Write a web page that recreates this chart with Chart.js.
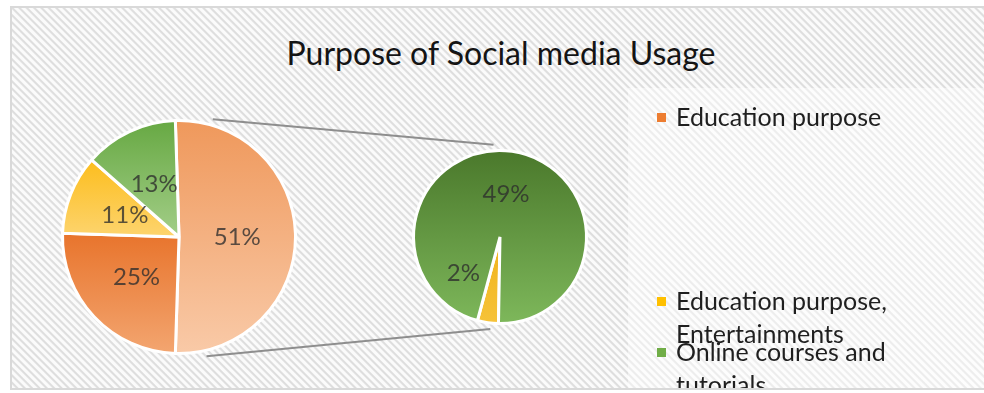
<!DOCTYPE html>
<html lang="en">
<head>
<meta charset="UTF-8">
<title>Purpose of Social media Usage</title>
<script src="https://cdn.jsdelivr.net/npm/chart.js"></script>
<style>
  body { margin: 0; width: 984px; height: 393px; overflow: hidden; background: #fff; font-family: Lato, sans-serif; }
  #frame {
    position: absolute; left: 10px; top: 6px; width: 980px; height: 384px; box-sizing: border-box;
    border: 2px solid #d9d9d9; border-right: none;
    background: repeating-linear-gradient(45deg, #fbfbfb 0px, #fbfbfb 2px, #dedede 3.2px, #dedede 4.2px, #fbfbfb 5.2px);
  }
  #legendBox { position: absolute; left: 628px; top: 88px; width: 356px; height: 300px; background: rgba(255,255,255,0.45); overflow: hidden; }
  #title { position: absolute; left: 0; width: 1002px; top: 33px; text-align: center; font-size: 32px; color: #141414; white-space: nowrap; }
  canvas { position: absolute; left: 0; top: 0; }
  .item { position: absolute; left: 48px; width: 215px; font-size: 25px; line-height: 33px; color: #1f1f1f; }
  .item i { position: absolute; left: -19px; top: 13px; width: 9px; height: 9px; }
</style>
</head>
<body>
<div id="frame"></div>
<div id="title">Purpose of Social media Usage</div>
<canvas id="mainPie" width="984" height="393"></canvas>
<canvas id="subPie" width="984" height="393"></canvas>
<div id="legendBox"></div>

<script>
  // main pie: "Other" slice first, then the three named categories
  const mainLabels = ['Other', 'Education purpose', 'Education purpose, Entertainments', 'Online courses and tutorials'];
  const mainValues = [51, 25, 11, 13];
  // secondary pie splits the "Other" slice
  const subLabels = ['Other (minor)', 'Other (major)'];
  const subValues = [2, 49];
  // legend entries as shown in the picture (the rest is clipped)
  const legendLabels = ['Education purpose', 'Education purpose, Entertainments', 'Online courses and tutorials'];

  // [top colour, bottom colour] for each slice
  const mainColors = [['#ef985b', '#f9caa8'], ['#e8742c', '#f3a671'], ['#fcbd1c', '#fdd46e'], ['#66a842', '#a3ce88']];
  const subColors = [['#f0b21a', '#f6c33a'], ['#4a782b', '#7eb85b']];
  const legendColors = ['#ed7d31', '#ffc000', '#70ad47'];
  const legendTops = [12, 196, 247];

  const mainRotation = 90 - mainValues[0] / mainValues.reduce((a, b) => a + b, 0) * 180;
  const subRotation = 181;

  // vertical gradient per slice, fitted to the slice's own height
  function sliceGradient(colors, rotation) {
    return (c) => {
      const chart = c.chart, area = chart.chartArea;
      const pair = colors[c.dataIndex];
      if (!area) return pair[0];
      const vals = chart.data.datasets[0].data;
      const total = vals.reduce((a, b) => a + b, 0);
      const before = vals.slice(0, c.dataIndex).reduce((a, b) => a + b, 0);
      const start = (rotation - 90) * Math.PI / 180 + before / total * 2 * Math.PI;
      const span = vals[c.dataIndex] / total * 2 * Math.PI;
      const ys = [0, Math.sin(start), Math.sin(start + span)];
      [Math.PI / 2, 3 * Math.PI / 2].forEach(a => {
        const k = (((a - start) % (2 * Math.PI)) + 2 * Math.PI) % (2 * Math.PI);
        if (k <= span) ys.push(Math.sin(a));
      });
      const cy = (area.top + area.bottom) / 2;
      const r = Math.min(area.width, area.height) / 2;
      const y0 = cy + r * Math.min(...ys), y1 = cy + r * Math.max(...ys);
      const g = chart.ctx.createLinearGradient(0, y0, 0, Math.max(y1, y0 + 1));
      g.addColorStop(0, pair[0]);
      g.addColorStop(1, pair[1]);
      return g;
    };
  }

  const pctLabels = {
    id: 'pctLabels',
    afterDatasetsDraw(chart) {
      const ctx = chart.ctx;
      const vals = chart.data.datasets[0].data;
      ctx.save();
      ctx.font = '24px Lato';
      ctx.fillStyle = 'rgba(45,45,45,0.78)';
      ctx.textAlign = 'center';
      ctx.textBaseline = 'middle';
      chart.getDatasetMeta(0).data.forEach((arc, i) => {
        const txt = vals[i] + '%';
        const mid = (arc.startAngle + arc.endAngle) / 2;
        let r = arc.outerRadius * 0.5;
        let dx = 0;
        if (arc.endAngle - arc.startAngle < 0.3) {
          // thin slice: put the label beside it
          r = arc.outerRadius * 0.42;
          dx = -(ctx.measureText(txt).width / 2 + 15);
        }
        ctx.fillText(txt, arc.x + Math.cos(mid) * r + dx, arc.y + Math.sin(mid) * r);
      });
      ctx.restore();
    }
  };

  const baseOptions = {
    responsive: false,
    animation: false,
    plugins: { legend: { display: false }, tooltip: { enabled: false } }
  };

  const mainChart = new Chart(document.getElementById('mainPie'), {
    type: 'pie',
    data: {
      labels: mainLabels,
      datasets: [{ data: mainValues, backgroundColor: sliceGradient(mainColors, mainRotation), borderColor: '#ffffff', borderWidth: 3 }]
    },
    options: { ...baseOptions, rotation: mainRotation, layout: { padding: { left: 61, top: 118, right: 687, bottom: 37 } } },
    plugins: [pctLabels]
  });

  // series lines joining the two pies
  const connectors = {
    id: 'connectors',
    beforeDatasetsDraw(chart) {
      const a = mainChart.getDatasetMeta(0).data[0];
      const b = chart.getDatasetMeta(0).data[0];
      const deg = Math.PI / 180;
      const pt = (el, ang, extra) => [el.x + Math.cos(ang * deg) * (el.outerRadius + extra), el.y + Math.sin(ang * deg) * (el.outerRadius + extra)];
      const ctx = chart.ctx;
      ctx.save();
      ctx.strokeStyle = '#8e8e8e';
      ctx.lineWidth = 2;
      [[-74, -94], [77, 96]].forEach(([m, s]) => {
        const p = pt(a, m, 6), q = pt(b, s, 6);
        ctx.beginPath();
        ctx.moveTo(p[0], p[1]);
        ctx.lineTo(q[0], q[1]);
        ctx.stroke();
      });
      ctx.restore();
    }
  };

  new Chart(document.getElementById('subPie'), {
    type: 'pie',
    data: {
      labels: subLabels,
      datasets: [{ data: subValues, backgroundColor: sliceGradient(subColors, subRotation), borderColor: '#ffffff', borderWidth: 3 }]
    },
    options: { ...baseOptions, rotation: subRotation, layout: { padding: { left: 412, top: 148, right: 396, bottom: 67 } } },
    plugins: [pctLabels, connectors]
  });

  // legend
  const box = document.getElementById('legendBox');
  legendLabels.forEach((label, i) => {
    const d = document.createElement('div');
    d.className = 'item';
    d.style.top = legendTops[i] + 'px';
    d.innerHTML = '<i style="background:' + legendColors[i] + '"></i>';
    d.appendChild(document.createTextNode(label));
    box.appendChild(d);
  });
</script>
</body>
</html>
